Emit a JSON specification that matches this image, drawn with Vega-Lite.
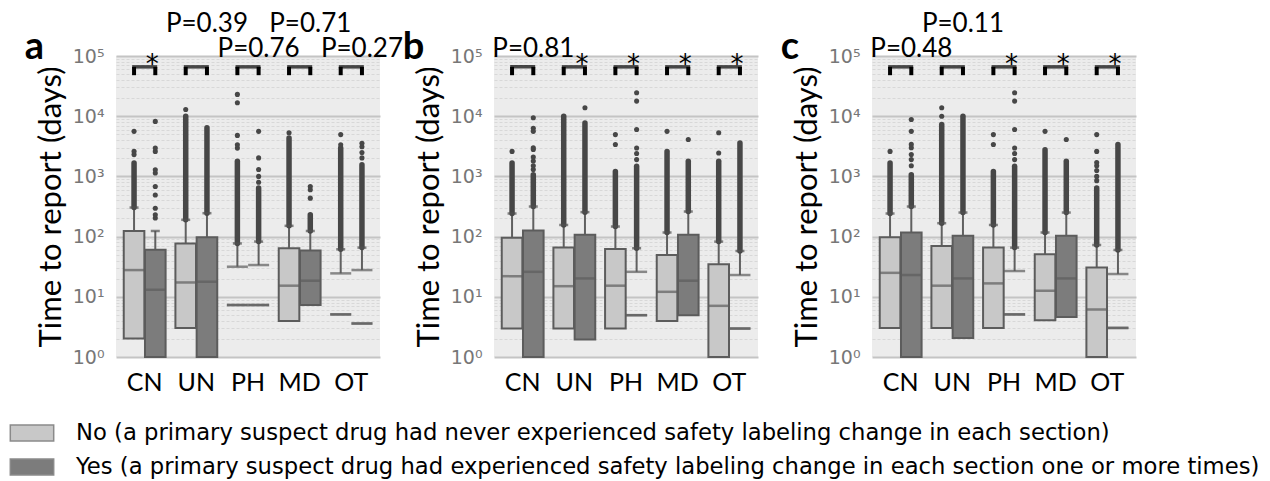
{
  "$schema": "https://vega.github.io/schema/vega-lite/v6.json",
  "background": "white",
  "padding": {"left": 17, "top": 11, "right": 5, "bottom": 2},
  "config": {
    "view": {"fill": "#ececec", "stroke": null},
    "font": "Lato",
    "axis": {"labelFont": "Lato", "titleFont": "Lato"},
    "legend": {"labelFont": "DejaVu Sans", "padding": 0}
  },
  "data": {"values": [
    {"kind":"box","panel":"a","cat":"CN","grp":"No","q1":2.02,"med":27.8,"q3":124,"hi":304,"ohi":1670,"hollow":false},
    {"kind":"box","panel":"a","cat":"CN","grp":"Yes","q1":1,"med":13.1,"q3":60.7,"hi":124,"ohi":124,"hollow":false},
    {"kind":"box","panel":"a","cat":"UN","grp":"No","q1":3.04,"med":17.3,"q3":77,"hi":190,"ohi":10000,"hollow":false},
    {"kind":"box","panel":"a","cat":"UN","grp":"Yes","q1":1,"med":17.8,"q3":97.5,"hi":245,"ohi":6400,"hollow":false},
    {"kind":"box","panel":"a","cat":"PH","grp":"No","q1":7.3,"med":7.3,"q3":31.6,"hi":77,"ohi":1780,"hollow":true},
    {"kind":"box","panel":"a","cat":"PH","grp":"Yes","q1":7.3,"med":7.3,"q3":33.7,"hi":82.6,"ohi":640,"hollow":true},
    {"kind":"box","panel":"a","cat":"MD","grp":"No","q1":3.98,"med":15.3,"q3":64,"hi":151,"ohi":4350,"hollow":false},
    {"kind":"box","panel":"a","cat":"MD","grp":"Yes","q1":7.3,"med":18.5,"q3":58.5,"hi":124,"ohi":230,"hollow":false},
    {"kind":"box","panel":"a","cat":"OT","grp":"No","q1":5.1,"med":5.1,"q3":24.5,"hi":61.5,"ohi":2960,"hollow":true},
    {"kind":"box","panel":"a","cat":"OT","grp":"Yes","q1":3.6,"med":3.6,"q3":27.8,"hi":65.6,"ohi":1560,"hollow":true},

    {"kind":"box","panel":"b","cat":"CN","grp":"No","q1":2.97,"med":22,"q3":96,"hi":242,"ohi":1670,"hollow":false},
    {"kind":"box","panel":"b","cat":"CN","grp":"Yes","q1":1,"med":26,"q3":126,"hi":316,"ohi":1070,"hollow":false},
    {"kind":"box","panel":"b","cat":"UN","grp":"No","q1":2.97,"med":15,"q3":65.6,"hi":156,"ohi":10000,"hollow":false},
    {"kind":"box","panel":"b","cat":"UN","grp":"Yes","q1":1.95,"med":20.2,"q3":107,"hi":255,"ohi":7700,"hollow":false},
    {"kind":"box","panel":"b","cat":"PH","grp":"No","q1":2.97,"med":15.3,"q3":62,"hi":147,"ohi":1210,"hollow":false},
    {"kind":"box","panel":"b","cat":"PH","grp":"Yes","q1":4.95,"med":4.95,"q3":26,"hi":64,"ohi":1480,"hollow":true},
    {"kind":"box","panel":"b","cat":"MD","grp":"No","q1":3.98,"med":12.1,"q3":49.5,"hi":117,"ohi":2600,"hollow":false},
    {"kind":"box","panel":"b","cat":"MD","grp":"Yes","q1":4.95,"med":18.5,"q3":107,"hi":261,"ohi":1780,"hollow":false},
    {"kind":"box","panel":"b","cat":"OT","grp":"No","q1":1,"med":7.08,"q3":34.6,"hi":82.6,"ohi":1780,"hollow":false},
    {"kind":"box","panel":"b","cat":"OT","grp":"Yes","q1":2.97,"med":2.97,"q3":23,"hi":57.7,"ohi":3600,"hollow":true},

    {"kind":"box","panel":"c","cat":"CN","grp":"No","q1":3.04,"med":25,"q3":97.5,"hi":242,"ohi":1670,"hollow":false},
    {"kind":"box","panel":"c","cat":"CN","grp":"Yes","q1":1,"med":23,"q3":117,"hi":316,"ohi":1070,"hollow":false},
    {"kind":"box","panel":"c","cat":"UN","grp":"No","q1":3.04,"med":15.3,"q3":70,"hi":167,"ohi":7300,"hollow":false},
    {"kind":"box","panel":"c","cat":"UN","grp":"Yes","q1":2.07,"med":20.2,"q3":103,"hi":251,"ohi":10000,"hollow":false},
    {"kind":"box","panel":"c","cat":"PH","grp":"No","q1":3.04,"med":16.7,"q3":65.6,"hi":156,"ohi":1210,"hollow":false},
    {"kind":"box","panel":"c","cat":"PH","grp":"Yes","q1":5.1,"med":5.1,"q3":26.8,"hi":65.6,"ohi":1480,"hollow":true},
    {"kind":"box","panel":"c","cat":"MD","grp":"No","q1":4.08,"med":12.6,"q3":50.8,"hi":117,"ohi":2780,"hollow":false},
    {"kind":"box","panel":"c","cat":"MD","grp":"Yes","q1":4.64,"med":20.2,"q3":103,"hi":251,"ohi":1780,"hollow":false},
    {"kind":"box","panel":"c","cat":"OT","grp":"No","q1":1,"med":6.15,"q3":30.8,"hi":72.6,"ohi":640,"hollow":false},
    {"kind":"box","panel":"c","cat":"OT","grp":"Yes","q1":3.04,"med":3.04,"q3":23.9,"hi":60,"ohi":3390,"hollow":true},

    {"kind":"pt","panel":"a","cat":"CN","grp":"No","v":2300},
    {"kind":"pt","panel":"a","cat":"CN","grp":"No","v":2600},
    {"kind":"pt","panel":"a","cat":"CN","grp":"No","v":5600},
    {"kind":"pt","panel":"a","cat":"CN","grp":"Yes","v":204},
    {"kind":"pt","panel":"a","cat":"CN","grp":"Yes","v":230},
    {"kind":"pt","panel":"a","cat":"CN","grp":"Yes","v":295},
    {"kind":"pt","panel":"a","cat":"CN","grp":"Yes","v":490},
    {"kind":"pt","panel":"a","cat":"CN","grp":"Yes","v":680},
    {"kind":"pt","panel":"a","cat":"CN","grp":"Yes","v":1140},
    {"kind":"pt","panel":"a","cat":"CN","grp":"Yes","v":1290},
    {"kind":"pt","panel":"a","cat":"CN","grp":"Yes","v":2600},
    {"kind":"pt","panel":"a","cat":"CN","grp":"Yes","v":2960},
    {"kind":"pt","panel":"a","cat":"CN","grp":"Yes","v":8200},
    {"kind":"pt","panel":"a","cat":"UN","grp":"No","v":12900},
    {"kind":"pt","panel":"a","cat":"PH","grp":"No","v":2950},
    {"kind":"pt","panel":"a","cat":"PH","grp":"No","v":3350},
    {"kind":"pt","panel":"a","cat":"PH","grp":"No","v":4800},
    {"kind":"pt","panel":"a","cat":"PH","grp":"No","v":16700},
    {"kind":"pt","panel":"a","cat":"PH","grp":"No","v":23000},
    {"kind":"pt","panel":"a","cat":"PH","grp":"Yes","v":800},
    {"kind":"pt","panel":"a","cat":"PH","grp":"Yes","v":1000},
    {"kind":"pt","panel":"a","cat":"PH","grp":"Yes","v":1300},
    {"kind":"pt","panel":"a","cat":"PH","grp":"Yes","v":2030},
    {"kind":"pt","panel":"a","cat":"PH","grp":"Yes","v":5600},
    {"kind":"pt","panel":"a","cat":"MD","grp":"No","v":5300},
    {"kind":"pt","panel":"a","cat":"MD","grp":"Yes","v":435},
    {"kind":"pt","panel":"a","cat":"MD","grp":"Yes","v":600},
    {"kind":"pt","panel":"a","cat":"MD","grp":"Yes","v":680},
    {"kind":"pt","panel":"a","cat":"OT","grp":"No","v":3350},
    {"kind":"pt","panel":"a","cat":"OT","grp":"No","v":4950},
    {"kind":"pt","panel":"a","cat":"OT","grp":"Yes","v":2030},
    {"kind":"pt","panel":"a","cat":"OT","grp":"Yes","v":2500},
    {"kind":"pt","panel":"a","cat":"OT","grp":"Yes","v":3100},
    {"kind":"pt","panel":"a","cat":"OT","grp":"Yes","v":3550},

    {"kind":"pt","panel":"b","cat":"CN","grp":"No","v":2600},
    {"kind":"pt","panel":"b","cat":"CN","grp":"Yes","v":1300},
    {"kind":"pt","panel":"b","cat":"CN","grp":"Yes","v":1500},
    {"kind":"pt","panel":"b","cat":"CN","grp":"Yes","v":1800},
    {"kind":"pt","panel":"b","cat":"CN","grp":"Yes","v":2100},
    {"kind":"pt","panel":"b","cat":"CN","grp":"Yes","v":2800},
    {"kind":"pt","panel":"b","cat":"CN","grp":"Yes","v":3000},
    {"kind":"pt","panel":"b","cat":"CN","grp":"Yes","v":5600},
    {"kind":"pt","panel":"b","cat":"CN","grp":"Yes","v":6300},
    {"kind":"pt","panel":"b","cat":"CN","grp":"Yes","v":9400},
    {"kind":"pt","panel":"b","cat":"UN","grp":"Yes","v":13800},
    {"kind":"pt","panel":"b","cat":"PH","grp":"No","v":3390},
    {"kind":"pt","panel":"b","cat":"PH","grp":"No","v":4950},
    {"kind":"pt","panel":"b","cat":"PH","grp":"Yes","v":1900},
    {"kind":"pt","panel":"b","cat":"PH","grp":"Yes","v":2400},
    {"kind":"pt","panel":"b","cat":"PH","grp":"Yes","v":2960},
    {"kind":"pt","panel":"b","cat":"PH","grp":"Yes","v":6000},
    {"kind":"pt","panel":"b","cat":"PH","grp":"Yes","v":17800},
    {"kind":"pt","panel":"b","cat":"PH","grp":"Yes","v":24500},
    {"kind":"pt","panel":"b","cat":"MD","grp":"No","v":5600},
    {"kind":"pt","panel":"b","cat":"MD","grp":"Yes","v":4100},
    {"kind":"pt","panel":"b","cat":"OT","grp":"No","v":2450},
    {"kind":"pt","panel":"b","cat":"OT","grp":"No","v":5300},

    {"kind":"pt","panel":"c","cat":"CN","grp":"No","v":2600},
    {"kind":"pt","panel":"c","cat":"CN","grp":"Yes","v":1500},
    {"kind":"pt","panel":"c","cat":"CN","grp":"Yes","v":1900},
    {"kind":"pt","panel":"c","cat":"CN","grp":"Yes","v":2300},
    {"kind":"pt","panel":"c","cat":"CN","grp":"Yes","v":3000},
    {"kind":"pt","panel":"c","cat":"CN","grp":"Yes","v":3400},
    {"kind":"pt","panel":"c","cat":"CN","grp":"Yes","v":5600},
    {"kind":"pt","panel":"c","cat":"CN","grp":"Yes","v":8800},
    {"kind":"pt","panel":"c","cat":"UN","grp":"No","v":10000},
    {"kind":"pt","panel":"c","cat":"UN","grp":"No","v":13800},
    {"kind":"pt","panel":"c","cat":"PH","grp":"No","v":3390},
    {"kind":"pt","panel":"c","cat":"PH","grp":"No","v":4950},
    {"kind":"pt","panel":"c","cat":"PH","grp":"Yes","v":1900},
    {"kind":"pt","panel":"c","cat":"PH","grp":"Yes","v":2400},
    {"kind":"pt","panel":"c","cat":"PH","grp":"Yes","v":2960},
    {"kind":"pt","panel":"c","cat":"PH","grp":"Yes","v":6000},
    {"kind":"pt","panel":"c","cat":"PH","grp":"Yes","v":17800},
    {"kind":"pt","panel":"c","cat":"PH","grp":"Yes","v":24500},
    {"kind":"pt","panel":"c","cat":"MD","grp":"No","v":5600},
    {"kind":"pt","panel":"c","cat":"MD","grp":"Yes","v":4100},
    {"kind":"pt","panel":"c","cat":"OT","grp":"No","v":850},
    {"kind":"pt","panel":"c","cat":"OT","grp":"No","v":1000},
    {"kind":"pt","panel":"c","cat":"OT","grp":"No","v":1250},
    {"kind":"pt","panel":"c","cat":"OT","grp":"No","v":1500},
    {"kind":"pt","panel":"c","cat":"OT","grp":"No","v":1700},
    {"kind":"pt","panel":"c","cat":"OT","grp":"No","v":2600},
    {"kind":"pt","panel":"c","cat":"OT","grp":"No","v":4950},

    {"kind":"ann","panel":"a","cat":"CN","grp":"Yes","lab":"*","pos":53000},
    {"kind":"ann","panel":"a","cat":"UN","grp":"Yes","lab":"P=0.39","pos":340000},
    {"kind":"ann","panel":"a","cat":"PH","grp":"Yes","lab":"P=0.76","pos":130000},
    {"kind":"ann","panel":"a","cat":"MD","grp":"Yes","lab":"P=0.71","pos":340000},
    {"kind":"ann","panel":"a","cat":"OT","grp":"Yes","lab":"P=0.27","pos":130000},
    {"kind":"ann","panel":"b","cat":"CN","grp":"Yes","lab":"P=0.81","pos":130000},
    {"kind":"ann","panel":"b","cat":"UN","grp":"Yes","lab":"*","pos":53000},
    {"kind":"ann","panel":"b","cat":"PH","grp":"Yes","lab":"*","pos":53000},
    {"kind":"ann","panel":"b","cat":"MD","grp":"Yes","lab":"*","pos":53000},
    {"kind":"ann","panel":"b","cat":"OT","grp":"Yes","lab":"*","pos":53000},
    {"kind":"ann","panel":"c","cat":"CN","grp":"Yes","lab":"P=0.48","pos":130000},
    {"kind":"ann","panel":"c","cat":"UN","grp":"Yes","lab":"P=0.11","pos":340000},
    {"kind":"ann","panel":"c","cat":"PH","grp":"Yes","lab":"*","pos":53000},
    {"kind":"ann","panel":"c","cat":"MD","grp":"Yes","lab":"*","pos":53000},
    {"kind":"ann","panel":"c","cat":"OT","grp":"Yes","lab":"*","pos":53000}
  ]},
  "facet": {"column": {"field": "panel", "type": "nominal", "header": null}},
  "spacing": 114,
  "bounds": "flush",
  "resolve": {"axis": {"y": "independent"}},
  "spec": {
    "width": 264,
    "height": 301,
    "encoding": {
      "x": {
        "field": "cat", "type": "nominal", "sort": ["CN", "UN", "PH", "MD", "OT"],
        "scale": {"paddingInner": 0.19, "paddingOuter": 0.15},
        "axis": {"title": null, "labelAngle": 0, "labelFontSize": 25, "labelColor": "black", "ticks": false, "domain": false, "labelPadding": 13, "grid": false}
      }
    },
    "layer": [
      {
        "transform": [{"filter": "datum.kind == 'box'"}],
        "mark": {"type": "rule", "color": "#606060", "strokeWidth": 2},
        "encoding": {
          "xOffset": {"field": "grp", "type": "nominal", "sort": ["No", "Yes"], "scale": {"paddingInner": 0.03}},
          "y": {
            "field": "q3", "type": "quantitative",
            "scale": {"type": "log", "domain": [1, 100000], "nice": false},
            "axis": {
              "title": "Time to report (days)", "titleFontSize": 31, "titleColor": "black", "titleFontWeight": "normal", "titlePadding": 5,
              "labelFont": "DejaVu Sans", "labelFontSize": 19, "labelColor": "#777777", "ticks": false, "domain": false, "labelPadding": 12, "labelOverlap": false,
              "values": [1,2,3,4,5,6,7,8,9,10,20,30,40,50,60,70,80,90,100,200,300,400,500,600,700,800,900,1000,2000,3000,4000,5000,6000,7000,8000,9000,10000,20000,30000,40000,50000,60000,70000,80000,90000,100000],
              "labelExpr": "indexof([1,10,100,1000,10000,100000], datum.value) >= 0 ? '10' + ['⁰','¹','²','³','⁴','⁵'][round(log(datum.value)/LN10)] : ''",
              "grid": true,
              "gridColor": {"condition": {"test": "indexof([1,10,100,1000,10000,100000], datum.value) >= 0", "value": "#c4c4c4"}, "value": "#d8d8d8"},
              "gridWidth": {"condition": {"test": "indexof([1,10,100,1000,10000,100000], datum.value) >= 0", "value": 2}, "value": 1},
              "gridDash": {"condition": {"test": "indexof([1,10,100,1000,10000,100000], datum.value) >= 0", "value": []}, "value": [3, 2]}
            }
          },
          "y2": {"field": "hi"}
        }
      },
      {
        "transform": [{"filter": "datum.kind == 'box' && datum.ohi > datum.hi"}],
        "mark": {"type": "rule", "color": "#474747", "strokeWidth": 5.5, "strokeCap": "round"},
        "encoding": {
          "xOffset": {"field": "grp", "type": "nominal", "sort": ["No", "Yes"]},
          "y": {"field": "hi", "type": "quantitative"},
          "y2": {"field": "ohi"}
        }
      },
      {
        "transform": [{"filter": "datum.kind == 'box' && !datum.hollow"}],
        "mark": {"type": "bar", "stroke": "#5c5c5c", "strokeWidth": 2},
        "encoding": {
          "xOffset": {"field": "grp", "type": "nominal", "sort": ["No", "Yes"]},
          "y": {"field": "q1", "type": "quantitative"},
          "y2": {"field": "q3"},
          "color": {
            "field": "grp", "type": "nominal",
            "scale": {"domain": ["No", "Yes"], "range": ["#c8c8c8", "#7c7c7c"]},
            "legend": {
              "orient": "none", "legendX": -99, "legendY": 362,
              "direction": "vertical", "title": null,
              "labelFontSize": 22.7, "labelColor": "black", "labelLimit": 1300,
              "symbolType": "M-1.55,-0.57H1.55V0.57H-1.55Z", "symbolSize": 784,
              "symbolStrokeColor": "#8a8a8a", "symbolStrokeWidth": 1.5,
              "rowPadding": 7, "labelOffset": 29,
              "labelExpr": "datum.label == 'No' ? 'No (a primary suspect drug had never experienced safety labeling change in each section)' : 'Yes (a primary suspect drug had experienced safety labeling change in each section one or more times)'"
            }
          }
        }
      },
      {
        "transform": [{"filter": "datum.kind == 'box' && datum.hollow"}],
        "mark": {"type": "tick", "orient": "horizontal", "color": "#5c5c5c", "size": 21, "thickness": 2.5},
        "encoding": {
          "xOffset": {"field": "grp", "type": "nominal", "sort": ["No", "Yes"]},
          "y": {"field": "q1", "type": "quantitative"}
        }
      },
      {
        "transform": [{"filter": "datum.kind == 'box' && datum.hollow"}],
        "mark": {"type": "tick", "orient": "horizontal", "color": "#5c5c5c", "size": 21, "thickness": 2.5},
        "encoding": {
          "xOffset": {"field": "grp", "type": "nominal", "sort": ["No", "Yes"]},
          "y": {"field": "q3", "type": "quantitative"}
        }
      },
      {
        "transform": [{"filter": "datum.kind == 'box'"}],
        "mark": {"type": "tick", "orient": "horizontal", "color": "#5c5c5c", "size": 21, "thickness": 2.5},
        "encoding": {
          "xOffset": {"field": "grp", "type": "nominal", "sort": ["No", "Yes"]},
          "y": {"field": "med", "type": "quantitative"}
        }
      },
      {
        "transform": [{"filter": "datum.kind == 'box'"}],
        "mark": {"type": "tick", "orient": "horizontal", "color": "#505050", "size": 9, "thickness": 2.5},
        "encoding": {
          "xOffset": {"field": "grp", "type": "nominal", "sort": ["No", "Yes"]},
          "y": {"field": "hi", "type": "quantitative"}
        }
      },
      {
        "transform": [{"filter": "datum.kind == 'pt'"}],
        "mark": {"type": "circle", "color": "#474747", "size": 26, "opacity": 1},
        "encoding": {
          "xOffset": {"field": "grp", "type": "nominal", "sort": ["No", "Yes"]},
          "y": {"field": "v", "type": "quantitative"}
        }
      },
      {
        "transform": [{"filter": "datum.kind == 'box'"}],
        "mark": {"type": "rule", "color": "black", "strokeWidth": 4},
        "encoding": {
          "xOffset": {"field": "grp", "type": "nominal", "sort": ["No", "Yes"]},
          "y": {"datum": 48000, "type": "quantitative"},
          "y2": {"datum": 66000}
        }
      },
      {
        "transform": [{"filter": "datum.kind == 'ann'"}],
        "mark": {"type": "tick", "orient": "horizontal", "color": "black", "size": 25, "thickness": 3.5},
        "encoding": {
          "y": {"datum": 66000, "type": "quantitative"}
        }
      },
      {
        "transform": [{"filter": "datum.kind == 'ann' && datum.lab != '*'"}],
        "mark": {"type": "text", "fontSize": 26, "baseline": "middle", "align": "center", "color": "black"},
        "encoding": {
          "xOffset": {"field": "grp", "type": "nominal", "sort": ["No", "Yes"]},
          "y": {"field": "pos", "type": "quantitative"},
          "text": {"field": "lab"}
        }
      },
      {
        "transform": [{"filter": "datum.kind == 'ann' && datum.lab == '*'"}],
        "mark": {"type": "text", "font": "DejaVu Sans", "fontSize": 26, "baseline": "alphabetic", "align": "center", "color": "black", "dx": -3},
        "encoding": {
          "xOffset": {"field": "grp", "type": "nominal", "sort": ["No", "Yes"]},
          "y": {"field": "pos", "type": "quantitative"},
          "text": {"field": "lab"}
        }
      },
      {
        "transform": [{"filter": "datum.kind == 'ann' && datum.cat == 'CN'"}],
        "mark": {"type": "text", "fontSize": 38, "fontWeight": "bold", "baseline": "alphabetic", "align": "left", "color": "black", "dx": -120, "dy": 3},
        "encoding": {
          "y": {"datum": 100000, "type": "quantitative"},
          "text": {"field": "panel"}
        }
      }
    ]
  }
}
